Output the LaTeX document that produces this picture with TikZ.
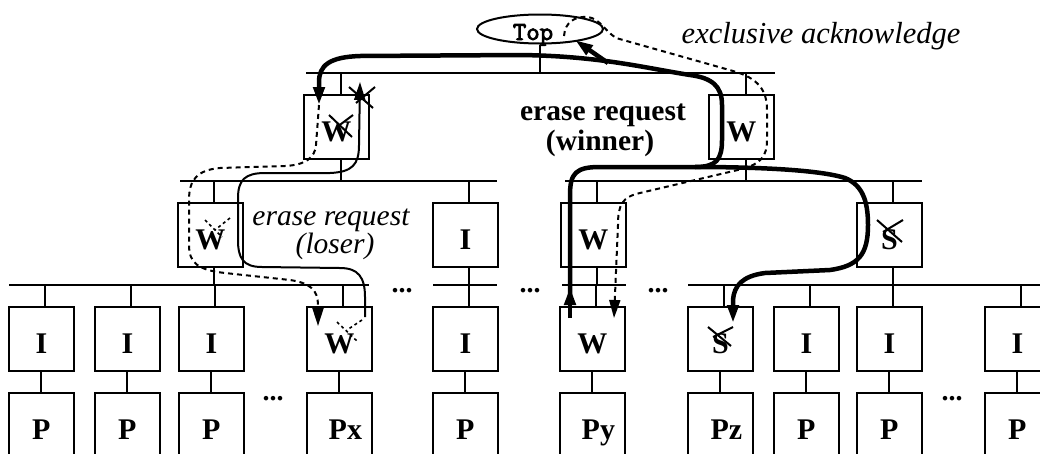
\documentclass[tikz,border=0pt]{standalone}
\usepackage{fontspec}
\setmainfont{Liberation Serif}
\setmonofont{Latin Modern Mono}[FakeBold=3]
\usetikzlibrary{arrows.meta,shapes.geometric}
\begin{document}
\begin{tikzpicture}[x=1pt,y=-1pt,
  box/.style={draw, line width=2.2pt, minimum width=64.5pt, minimum height=64pt, inner sep=0pt, anchor=north west},
  lab/.style={anchor=base, inner sep=0pt, font=\fontsize{30}{32}\selectfont\bfseries},
  dots/.style={anchor=base, inner sep=0pt, font=\fontsize{28}{30}\selectfont\bfseries},
  bus/.style={line width=2.8pt},
  tick/.style={line width=2.2pt},
  heavy/.style={line width=4.5pt},
  light/.style={line width=2pt},
  dsh/.style={line width=2pt, dash pattern=on 5pt off 4pt},
  dshs/.style={line width=1.6pt, dash pattern=on 3pt off 3pt},
  tip/.style={-{Triangle[length=18pt,width=11pt]}},
  bigtxt/.style={inner sep=0pt, anchor=base, font=\fontsize{29.5}{32}\selectfont}
]
\useasboundingbox (0,0) rectangle (1040,453);
\clip (0,0) rectangle (1040,453);

% buses
\coordinate (bus1) at (306,73);
\coordinate (bus2) at (180,181);
\coordinate (bus3) at (9,285);
\draw[bus] (306,73) -- (775,73);
\draw[bus] (180,181) -- (497,181);
\draw[bus] (565,181) -- (922,181);
\draw[bus] (9,285) -- (369,285);
\draw[bus] (433,285) -- (497,285);
\draw[bus] (562,285) -- (626,285);
\draw[bus] (688,285) -- (1040,285);

% top
\node[draw, ellipse, line width=2pt, minimum width=126pt, minimum height=29pt, inner sep=0pt] (top) at (540,29) {};
\node[anchor=base, inner sep=0pt, font=\fontsize{26}{28}\selectfont\ttfamily] (toplab) at (533,40) {Top};
\draw[tick] (top.south) -- (top.south |- bus1);

% top row
\node[box] (t1) at (303,94) {};
\node[box] (t2) at (708,94) {};
\foreach \n in {t1,t2} {
  \draw[tick] ([xshift=4.5pt]\n.north) -- ([xshift=4.5pt]\n.north |- bus1);
  \draw[tick] ([xshift=4.5pt]\n.south) -- ([xshift=4.5pt]\n.south |- bus2);
  \node[lab] (l\n) at ([yshift=-47.5pt]\n.north) {W};
}

% middle row
\foreach \n/\x/\a in {m1/177/W, m2/432/I, m3/560/W, m4/856/S} {
  \node[box] (\n) at (\x,202) {};
  \draw[tick] ([xshift=4pt]\n.north) -- ([xshift=4pt]\n.north |- bus2);
  \draw[tick] ([xshift=4pt]\n.south) -- ([xshift=4pt]\n.south |- bus3);
  \node[lab] (l\n) at ([yshift=-47.5pt]\n.north) {\a};
}

% I and P rows
\foreach \n/\x/\a/\b/\d in {1/8/I/P/0, 2/94/I/P/0, 3/178/I/P/0, 4/306/W/Px/6, 5/432/I/P/0, 6/559/W/Py/6, 7/687/S/Pz/6, 8/773/I/P/0, 9/856/I/P/0, 10/984/I/P/0} {
  \node[box] (i\n) at (\x,306) {};
  \node[box] (p\n) at (\x,392) {};
  \draw[tick] (i\n.south) -- (p\n.north);
  \draw[tick] ([xshift=3.5pt]i\n.north) -- ([xshift=3.5pt]i\n.north |- bus3);
  \node[lab] (li\n) at ([yshift=-47.5pt]i\n.north) {\a};
  \node[lab] (lp\n) at ([xshift=\d pt,yshift=-47.5pt]p\n.north) {\b};
}

% ellipses
\node[dots] (d1) at (402,292) {...};
\node[dots] (d2) at (530,292) {...};
\node[dots] (d3) at (658,292) {...};
\node[dots] (d4) at (273,400) {...};
\node[dots] (d5) at (952,400) {...};

% texts
\node[bigtxt, font=\fontsize{29.5}{32}\selectfont\bfseries] (w1) at (603,120) {erase request};
\node[bigtxt, font=\fontsize{29.5}{32}\selectfont\bfseries] (w2) at (600,150) {(winner)};
\node[bigtxt, font=\fontsize{29.5}{32}\selectfont\itshape] (s1) at (331,225) {erase request};
\node[bigtxt, font=\fontsize{29.5}{32}\selectfont\itshape] (s2) at (335,253) {(loser)};
\node[bigtxt, font=\fontsize{30.5}{32}\selectfont\itshape] (ack) at (821,43) {exclusive acknowledge};

% winner request (thick)
\draw[heavy, tip] (570,318) -- (570,287);
\draw[heavy, tip] (570,300) -- (570,195) .. controls (570,173) and (576,167) .. (600,167)
  -- (695,167) .. controls (716,167) and (722,160) .. (722,140) -- (722,105)
  .. controls (722,86) and (712,78) .. (690,75) .. controls (645,68) and (600,56) .. (520,55)
  -- (360,56) .. controls (330,57) and (319,65) .. (319,82) -- (319,105);
\draw[heavy, tip] (608,63) -- (575,40);
\draw[heavy, tip] (695,167) .. controls (760,167) and (820,170) .. (845,178)
  .. controls (862,185) and (868,200) .. (868,225) .. controls (868,255) and (858,266) .. (830,270)
  -- (765,273) .. controls (742,276) and (734,286) .. (733,300) -- (733,323);

% loser request (thin)
\draw[light, tip] (365,317) -- (365,297) .. controls (365,277) and (358,268) .. (340,268)
  -- (262,267) .. controls (243,267) and (238,258) .. (238,240) -- (238,198)
  .. controls (238,180) and (245,173) .. (265,173) -- (330,173)
  .. controls (352,172) and (359,165) .. (359,145) -- (360,82);

% dashed from top-left W down to Px
\draw[dsh, tip] (319,105) -- (316,145) .. controls (315,158) and (305,165) .. (285,166)
  -- (220,168) .. controls (197,170) and (189,180) .. (189,200) -- (189,245)
  .. controls (189,263) and (198,270) .. (225,273) -- (290,280)
  .. controls (310,283) and (318,290) .. (318,305) -- (318,326);

% exclusive acknowledge (dashed)
\draw[dsh, tip] (564,36) .. controls (565,22) and (575,16) .. (588,17)
  .. controls (600,19) and (604,30) .. (616,38) -- (733,71)
  .. controls (758,78) and (767,90) .. (767,110) -- (767,140)
  .. controls (767,157) and (760,164) .. (742,169) -- (640,193)
  .. controls (622,197) and (618,205) .. (618,225) -- (614,318);

% crosses
\draw[light] (329,115) -- (352,137);
\draw[light] (353,115) -- (337,127);
\draw[light] (349,87) -- (373,108);
\draw[light] (375,87) -- (356,103);
\draw[light] (877,220) -- (902,242);
\draw[light] (903,220) -- (883,232);
\draw[light] (708,327) -- (731,346);
\draw[light] (733,327) -- (713,337);
\draw[dshs] (205,220) -- (222,237);
\draw[dshs] (230,218) -- (215,230);
\draw[dshs] (337,322) -- (358,342);
\draw[dshs] (362,320) -- (347,330);
\end{tikzpicture}
\end{document}
